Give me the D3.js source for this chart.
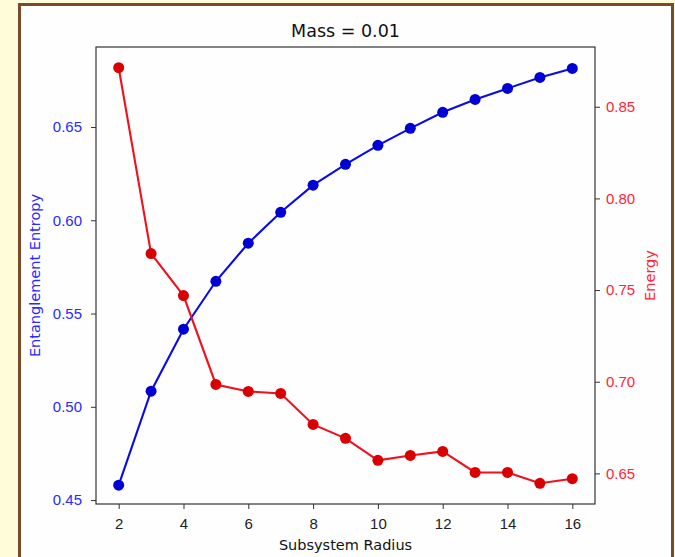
<!DOCTYPE html>
<html>
<head>
<meta charset="utf-8">
<script src="https://cdn.jsdelivr.net/npm/d3@7"></script>
<style>
  html, body { margin: 0; padding: 0; background: #fffcd9; }
  svg { display: block; font-family: "DejaVu Sans", sans-serif; }
</style>
</head>
<body>
<svg width="675" height="557"></svg>
<script>
// Subsystem radius (x) and the two series
const radius = [2, 3, 4, 5, 6, 7, 8, 9, 10, 11, 12, 13, 14, 15, 16]
const entropy = [0.458, 0.5084, 0.5416, 0.5673, 0.5877, 0.6043, 0.6188, 0.630, 0.6402, 0.6493, 0.6579, 0.6648, 0.6707, 0.6766, 0.6814]
const energy = [0.8713, 0.7699, 0.7470, 0.6985, 0.6947, 0.6936, 0.6767, 0.6691, 0.6571, 0.6598, 0.6620, 0.6505, 0.6505, 0.6446, 0.6471]

const xTicks = [2, 4, 6, 8, 10, 12, 14, 16]
const leftTicks = [0.45, 0.50, 0.55, 0.60, 0.65]
const rightTicks = [0.65, 0.70, 0.75, 0.80, 0.85]

const svg = d3.select('svg')

// Slide frame: cream outside, white card with brown edge
svg.append('rect')
  .attr('x', 19.5).attr('y', 4.5)
  .attr('width', 653).attr('height', 570)
  .attr('fill', '#fefefe')
  .attr('stroke', '#7a4a2a')
  .attr('stroke-width', 3)

// Plot box
const plotLeft = 96, plotRight = 595, plotTop = 47, plotBottom = 504

const x = d3.scaleLinear().domain([1.3, 16.7]).range([plotLeft, plotRight])
const yLeft = d3.scaleLinear().domain([0.4479, 0.6929]).range([plotBottom, plotTop])
const yRight = d3.scaleLinear().domain([0.6333, 0.8826]).range([plotBottom, plotTop])

const blueLine = '#0a0ae6', blueDot = '#0000d4', blueText = '#2a2aff'
const redLine = '#f0101e', redDot = '#d80000', redText = '#ff2535'

// Axes
const xAxis = svg.append('g')
  .attr('transform', `translate(0, ${plotBottom})`)
  .call(d3.axisBottom(x).tickValues(xTicks).tickSize(5).tickPadding(9).tickFormat(d3.format('d')))
xAxis.selectAll('text').attr('fill', '#222').style('font-size', '15px')

const lAxis = svg.append('g')
  .attr('transform', `translate(${plotLeft}, 0)`)
  .call(d3.axisLeft(yLeft).tickValues(leftTicks).tickSize(5).tickPadding(9).tickFormat(d3.format('.2f')))
lAxis.selectAll('text').attr('fill', blueText).style('font-size', '15px')

const rAxis = svg.append('g')
  .attr('transform', `translate(${plotRight}, 0)`)
  .call(d3.axisRight(yRight).tickValues(rightTicks).tickSize(5).tickPadding(6).tickFormat(d3.format('.2f')))
rAxis.selectAll('text').attr('fill', redText).style('font-size', '15px')

svg.selectAll('.domain').remove()
svg.selectAll('.tick line').attr('stroke', '#333')

svg.append('rect')
  .attr('x', plotLeft).attr('y', plotTop)
  .attr('width', plotRight - plotLeft).attr('height', plotBottom - plotTop)
  .attr('fill', 'none')
  .attr('stroke', '#333')
  .attr('stroke-width', 1.2)

// Entropy series (left axis)
svg.append('path')
  .datum(radius.map((r, i) => [r, entropy[i]]))
  .attr('fill', 'none')
  .attr('stroke', blueLine)
  .attr('stroke-width', 2.1)
  .attr('d', d3.line().x(d => x(d[0])).y(d => yLeft(d[1])))

svg.selectAll('.dot-blue')
  .data(radius.map((r, i) => [r, entropy[i]]))
  .enter().append('circle')
  .attr('cx', d => x(d[0]))
  .attr('cy', d => yLeft(d[1]))
  .attr('r', 5.5)
  .attr('fill', blueDot)

// Energy series (right axis), drawn on top
svg.append('path')
  .datum(radius.map((r, i) => [r, energy[i]]))
  .attr('fill', 'none')
  .attr('stroke', redLine)
  .attr('stroke-width', 2.1)
  .attr('d', d3.line().x(d => x(d[0])).y(d => yRight(d[1])))

svg.selectAll('.dot-red')
  .data(radius.map((r, i) => [r, energy[i]]))
  .enter().append('circle')
  .attr('cx', d => x(d[0]))
  .attr('cy', d => yRight(d[1]))
  .attr('r', 5.5)
  .attr('fill', redDot)

// Title and labels
svg.append('text')
  .attr('x', (plotLeft + plotRight) / 2)
  .attr('y', 37)
  .attr('text-anchor', 'middle')
  .attr('fill', '#111')
  .style('font-size', '17.5px')
  .text('Mass = 0.01')

svg.append('text')
  .attr('x', (plotLeft + plotRight) / 2)
  .attr('y', 550)
  .attr('text-anchor', 'middle')
  .attr('fill', '#111')
  .style('font-size', '14.5px')
  .text('Subsystem Radius')

svg.append('text')
  .attr('transform', `translate(40, ${(plotTop + plotBottom) / 2}) rotate(-90)`)
  .attr('text-anchor', 'middle')
  .attr('fill', blueText)
  .style('font-size', '14.5px')
  .text('Entanglement Entropy')

svg.append('text')
  .attr('transform', `translate(655, ${(plotTop + plotBottom) / 2}) rotate(-90)`)
  .attr('text-anchor', 'middle')
  .attr('fill', redText)
  .style('font-size', '14.5px')
  .text('Energy')
</script>
</body>
</html>
